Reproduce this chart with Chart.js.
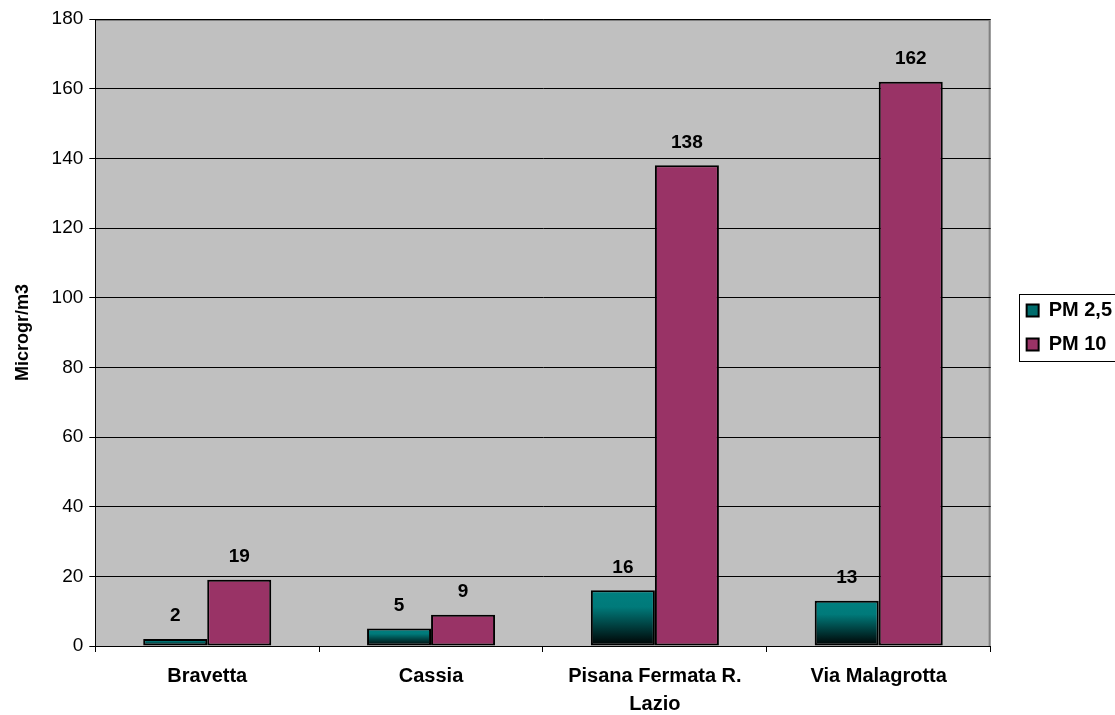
<!DOCTYPE html>
<html>
<head>
<meta charset="utf-8">
<script src="https://cdn.jsdelivr.net/npm/chart.js@4"></script>
<style>
  body { margin: 0; background: #ffffff; }
  #wrap { width: 1115px; height: 715px; }
</style>
</head>
<body>
<div id="wrap"><canvas id="pmChart" width="1115" height="715"></canvas></div>
<script>
var stations = ["Bravetta", "Cassia", ["Pisana Fermata R.", "Lazio"], "Via Malagrotta"];
var pm25 = [2, 5, 16, 13];
var pm10 = [19, 9, 138, 162];
var yTicks = [0, 20, 40, 60, 80, 100, 120, 140, 160, 180];

var FONT = "Arial, 'Liberation Sans', sans-serif";

function tealGradient(context) {
  var chart = context.chart;
  var y = chart.scales.y;
  if (!chart.chartArea || !y) return "#008080";
  var top = y.getPixelForValue(context.raw);
  var base = y.getPixelForValue(0);
  if (base - top < 1) return "#008080";
  var g = chart.ctx.createLinearGradient(0, top, 0, base);
  g.addColorStop(0, "#008080");
  g.addColorStop(0.3, "#007a7a");
  g.addColorStop(1, "#000000");
  return g;
}

var plotBackground = {
  id: "plotBackground",
  beforeDraw: function (chart) {
    var a = chart.chartArea, ctx = chart.ctx;
    ctx.save();
    ctx.fillStyle = "#c0c0c0";
    ctx.fillRect(a.left, a.top, a.right - a.left, a.bottom - a.top);
    ctx.strokeStyle = "#808080";
    ctx.lineWidth = 2;
    ctx.beginPath();
    ctx.moveTo(a.left, a.top + 1);
    ctx.lineTo(a.right - 1, a.top + 1);
    ctx.lineTo(a.right - 1, a.bottom);
    ctx.stroke();
    ctx.restore();
  }
};

var valueLabels = {
  id: "valueLabels",
  afterDatasetsDraw: function (chart) {
    var ctx = chart.ctx;
    ctx.save();
    ctx.font = "bold 19px " + FONT;
    ctx.fillStyle = "#000000";
    ctx.textAlign = "center";
    ctx.textBaseline = "middle";
    chart.data.datasets.forEach(function (ds, i) {
      chart.getDatasetMeta(i).data.forEach(function (bar, j) {
        ctx.fillText(ds.data[j], bar.x, bar.y - 23);
      });
    });
    ctx.restore();
  }
};

// move the legend right of the plot and a bit up, then frame its items
var legendBox = {
  id: "legendBox",
  afterUpdate: function (chart) {
    var l = chart.legend, dx = 22, dy = -46;
    l.left += dx;
    l.right += dx;
    l.top += dy;
    l.bottom += dy;
    l.legendHitBoxes.forEach(function (h) { h.left += dx; h.top += dy; });
  },
  afterDraw: function (chart) {
    var hb = chart.legend.legendHitBoxes, ctx = chart.ctx;
    if (!hb.length) return;
    var first = hb[0], last = hb[hb.length - 1];
    var x0 = Math.round(first.left - 8) + 0.5;
    var y0 = Math.round(first.top - 7) + 0.5;
    var y1 = Math.round(last.top + last.height + 6) + 0.5;
    ctx.save();
    ctx.strokeStyle = "#000000";
    ctx.lineWidth = 1;
    ctx.strokeRect(x0, y0, chart.width + 10 - x0, y1 - y0);
    ctx.restore();
  }
};

new Chart(document.getElementById("pmChart"), {
  type: "bar",
  data: {
    labels: stations,
    datasets: [
      {
        label: "PM 2,5",
        data: pm25,
        backgroundColor: tealGradient,
        borderColor: "#000000",
        borderWidth: 2,
        borderSkipped: false
      },
      {
        label: "PM 10",
        data: pm10,
        backgroundColor: "#993366",
        borderColor: "#000000",
        borderWidth: 2,
        borderSkipped: false
      }
    ]
  },
  options: {
    responsive: false,
    animation: false,
    layout: { padding: { top: 19, right: 15, bottom: -13, left: 12 } },
    datasets: { bar: { categoryPercentage: 0.572, barPercentage: 1.0 } },
    plugins: {
      title: { display: false },
      tooltip: { enabled: false },
      legend: {
        position: "right",
        align: "center",
        labels: {
          color: "#000000",
          font: { family: FONT, size: 20, weight: "bold" },
          boxWidth: 12,
          boxHeight: 12,
          padding: 14,
          generateLabels: function (chart) {
            return [
              { text: "PM 2,5", fillStyle: "#006d6d", strokeStyle: "#000", lineWidth: 2, datasetIndex: 0 },
              { text: "PM 10", fillStyle: "#993366", strokeStyle: "#000", lineWidth: 2, datasetIndex: 1 }
            ];
          }
        }
      }
    },
    scales: {
      x: {
        offset: true,
        grid: {
          display: true,
          offset: true,
          drawOnChartArea: false,
          drawTicks: true,
          tickLength: 6,
          color: "#000000"
        },
        border: { display: true, color: "#000000", width: 1 },
        ticks: {
          color: "#000000",
          font: { family: FONT, size: 20, weight: "bold", lineHeight: 1.4 },
          padding: 10,
          maxRotation: 0,
          autoSkip: false
        }
      },
      y: {
        min: 0,
        max: 180,
        afterBuildTicks: function (axis) {
          axis.ticks = yTicks.map(function (v) { return { value: v }; });
        },
        grid: {
          color: "#000000",
          lineWidth: 1,
          tickLength: 6,
          drawTicks: true
        },
        border: { display: true, color: "#000000", width: 1 },
        ticks: {
          color: "#000000",
          font: { family: FONT, size: 19 },
          padding: 6
        },
        title: {
          display: true,
          text: "Microgr/m3",
          color: "#000000",
          font: { family: FONT, size: 18, weight: "bold" },
          padding: { top: 0, bottom: 12 }
        }
      }
    }
  },
  plugins: [plotBackground, valueLabels, legendBox]
});
</script>
</body>
</html>
